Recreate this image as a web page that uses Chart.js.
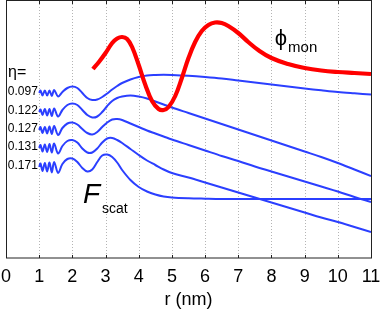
<!DOCTYPE html>
<html><head><meta charset="utf-8">
<script src="https://cdn.jsdelivr.net/npm/chart.js@4/dist/chart.umd.min.js"></script>
<style>html,body{margin:0;padding:0;background:#fff;}#wrap{width:381px;height:314px;}</style>
</head><body><div id="wrap"><canvas id="c" width="381" height="314"></canvas></div>
<script>
// r grid (nm) shared by the F_scat curves
const r = [1.00,1.04,1.10,1.17,1.24,1.31,1.38,1.45,1.57,1.70,1.85,2.00,2.15,2.30,2.45,2.60,2.75,2.90,3.05,3.20,3.35,3.50,3.75,4.00,4.25,4.50,4.75,5.00,5.50,6.00,6.50,7.00,7.50,8.00,8.50,9.00,9.50,10.00,10.50,11.00];
const etaLabels = ['0.097','0.122','0.127','0.131','0.171'];
const fscat097 = [165,167.5,162.5,167.5,162.5,167.5,162,168,161.5,166,170,171.5,170,165,160,158,158.5,161,164.5,168.5,172,175,178.5,181,182.5,183,183.2,183,182.2,181,179.5,177.5,175.5,173.5,171.5,169.5,167.7,166,164.7,163.5];
const fscat122 = [146,148.5,143,149,142.5,149,142,149.5,141.5,148,153,154.5,153,148,143,140.5,141.5,146,152,157,160,161.5,162.5,161.5,159.5,156.5,153.5,150.5,145,139.5,134,128.5,123,117.5,112,106.5,101,95,88.5,82];
const fscat127 = [128,131,125,131,124.5,131.5,124,132,123,130,134.5,135.5,133.5,129,125,123.5,126,131,135.5,138.5,139,138,134.5,131,127.5,124.5,121.5,118.5,113,107.5,102,97,91.5,86.5,81.5,76.5,71.5,66.5,61,56];
const fscat131 = [110,113,106.5,113.5,106,114,105.5,114.5,104.5,112,117,118,115.5,109.5,105.5,105.5,109.5,115.5,119.5,120,118,115,109,103,97.5,93,88.5,85,80.5,75.5,70.5,65.5,60.5,55.5,50.5,45.5,40.5,36,31,26];
const fscat171 = [91,94.5,87,95,86.5,95.5,85.5,96,85,94,99,99.5,96,90,86.5,88.5,96,102.5,103.5,101,95.5,88,78,71,66.5,63.5,61.5,60.5,59.7,59.3,59,59,59,59,59,59,59,59,59,59];
// phi_mon curve
const rMon = [2.62,2.8,3.0,3.2,3.35,3.5,3.65,3.8,4.0,4.2,4.4,4.6,4.75,4.9,5.1,5.3,5.5,5.7,5.9,6.1,6.3,6.5,6.7,7.0,7.3,7.6,8.0,8.5,9.0,9.5,10.0,10.5,11.0];
const phiMon = [189,196,205,215,219.5,221,219,211,193,173,157,149,148,151,162,180,200,216,227,233,235.5,235,232,225,216,208,200,194,190,187.5,186,185,184];
const xTicks = [0,1,2,3,4,5,6,7,8,9,10,11];

const FONT = "'Liberation Sans', Arial, Helvetica, sans-serif";
const BLUE = '#2b3fff';
const RED = '#ff0000';
const fscatSeries = [fscat097, fscat122, fscat127, fscat131, fscat171];

const pts = (xs, ys) => xs.map((v, i) => ({x: v, y: ys[i]}));

const datasets = [{
  label: 'phi_mon', data: pts(rMon, phiMon), borderColor: RED, borderWidth: 4.2,
  pointRadius: 0, fill: false, tension: 0.4, order: 0
}].concat(fscatSeries.map((s, i) => ({
  label: 'eta=' + etaLabels[i], data: pts(r, s), borderColor: BLUE, borderWidth: 2,
  pointRadius: 0, fill: false, tension: 0.35, order: 1
})));

const frame = {
  id: 'frame',
  beforeDatasetsDraw(chart) {
    const {ctx, chartArea: a, scales: {x}} = chart;
    ctx.save();
    ctx.strokeStyle = '#b4b4b4';
    ctx.lineWidth = 1;
    ctx.setLineDash([1, 2]);
    xTicks.forEach(t => {
      if (t <= 0 || t >= 11) return;
      const px = Math.round(x.getPixelForValue(t)) + 0.5;
      ctx.beginPath(); ctx.moveTo(px, a.top); ctx.lineTo(px, a.bottom); ctx.stroke();
    });
    ctx.restore();
  },
  afterDatasetsDraw(chart) {
    const {ctx, chartArea: a, scales: {x, y}} = chart;
    ctx.save();
    ctx.strokeStyle = '#222';
    ctx.lineWidth = 1;
    ctx.setLineDash([]);
    ctx.strokeRect(Math.round(a.left) + 0.5, Math.round(a.top) - 0.5, Math.round(a.right - a.left), Math.round(a.bottom - a.top) + 0.5);
    xTicks.forEach(t => {
      const px = Math.round(x.getPixelForValue(t)) + 0.5;
      ctx.beginPath();
      ctx.moveTo(px, a.bottom); ctx.lineTo(px, a.bottom - 3);
      ctx.moveTo(px, a.top); ctx.lineTo(px, a.top + 3);
      ctx.stroke();
    });
    // annotations
    ctx.fillStyle = '#000';
    ctx.textBaseline = 'middle';
    ctx.textAlign = 'right';
    ctx.font = '12px ' + FONT;
    fscatSeries.forEach((s, i) => {
      ctx.fillText(etaLabels[i], x.getPixelForValue(0.96), y.getPixelForValue(s[0]) - 1);
    });
    ctx.textAlign = 'left';
    ctx.textBaseline = 'alphabetic';
    ctx.font = '16px ' + FONT;
    ctx.fillText('η=', x.getPixelForValue(0.06), y.getPixelForValue(181));
    ctx.font = '22px ' + FONT;
    ctx.fillText('ϕ', x.getPixelForValue(8.1), y.getPixelForValue(213));
    ctx.font = '15px ' + FONT;
    ctx.fillText('mon', x.getPixelForValue(8.5), y.getPixelForValue(206));
    ctx.font = 'italic 28px ' + FONT;
    ctx.fillText('F', x.getPixelForValue(2.32), y.getPixelForValue(55));
    ctx.font = '14px ' + FONT;
    ctx.fillText('scat', x.getPixelForValue(2.89), y.getPixelForValue(45));
    ctx.restore();
  }
};

new Chart(document.getElementById('c'), {
  type: 'line',
  data: { datasets },
  plugins: [frame],
  options: {
    responsive: false, animation: false, devicePixelRatio: 1,
    layout: { padding: { left: 6, right: 10, top: 1, bottom: 0 } },
    plugins: { legend: { display: false }, tooltip: { enabled: false } },
    scales: {
      x: {
        type: 'linear', min: 0, max: 11,
        afterBuildTicks: s => { s.ticks = xTicks.map(v => ({value: v})); },
        afterFit: s => { s.height = 56; s.paddingLeft = 0; s.paddingRight = 0; },
        grid: { display: false, drawTicks: false },
        border: { display: false },
        ticks: { color: '#000', font: { family: FONT, size: 18 }, padding: 8, maxRotation: 0, autoSkip: false },
        title: { display: true, text: 'r (nm)', color: '#000', font: { family: FONT, size: 18 }, padding: { top: 0, bottom: 3 } }
      },
      y: { type: 'linear', min: 0, max: 257, display: false }
    }
  }
});
</script></body></html>
